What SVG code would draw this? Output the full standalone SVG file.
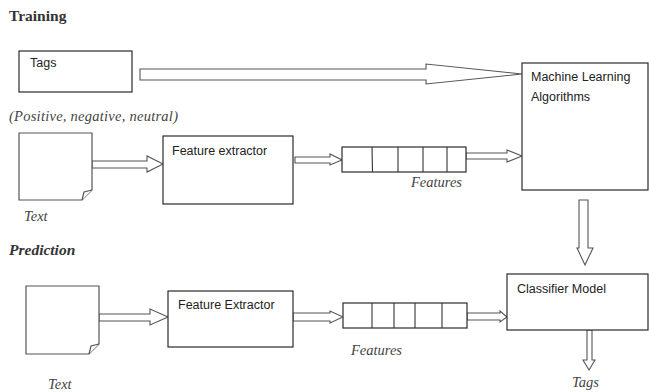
<svg xmlns="http://www.w3.org/2000/svg" width="649" height="392" viewBox="0 0 649 392">
  <defs>
    <style>
      .box { fill: #fff; stroke: #2b2b2b; stroke-width: 1.2; }
      .doc { fill: #fff; stroke: #555; stroke-width: 1.2; }
      .arrow { fill: #fff; stroke: #555; stroke-width: 1.1; stroke-linejoin: miter; }
      .cell { stroke: #333; stroke-width: 1.1; fill: none; }
      .lbl { font-family: "Liberation Sans", Arial, sans-serif; font-size: 12.5px; fill: #222; }
      .head { font-family: "Liberation Serif", "Times New Roman", serif; font-size: 15.5px; font-weight: bold; fill: #333; }
      .cap { font-family: "Liberation Serif", "Times New Roman", serif; font-size: 14.5px; font-style: italic; fill: #444; }
    </style>
  </defs>
  <rect width="649" height="392" fill="#fff"/>

  <!-- section titles -->
  <text class="head" x="9" y="21">Training</text>
  <text class="head" x="9" y="255" font-style="italic">Prediction</text>
  <text class="cap" x="9" y="121" textLength="169" lengthAdjust="spacing" font-size="15.5px">(Positive, negative, neutral)</text>

  <!-- connectors: block arrows -->
  <g id="connectors">
    <polygon class="arrow" points="140,69 426,69 426,64 522,74 426,84 426,80 140,80"/>
    <polygon class="arrow" points="92,161 147,161 147,156 163,164 147,172 147,168 92,168"/>
    <polygon class="arrow" points="295,157 330,157 330,154 342,160 330,165 330,163 295,163"/>
    <polygon class="arrow" points="466,153 507,153 507,150 522,156 507,162 507,159 466,159"/>
    <polygon class="arrow" points="579,200 588,200 588,248 593,248 585,265 577,248 579,248"/>
    <polygon class="arrow" points="99,314 150,314 150,309 168,317 150,325 150,321 99,321"/>
    <polygon class="arrow" points="293,313 330,313 330,311 343,317 330,323 330,321 293,321"/>
    <polygon class="arrow" points="467,313 500,313 500,311 507,317 500,322 500,320 467,320"/>
    <polygon class="arrow" points="587,330 592,330 592,360 595,360 589,370 583,360 587,360"/>
  </g>

  <!-- training -->
  <g id="tags-box">
    <rect class="box" x="19" y="51" width="113" height="41"/>
    <text class="lbl" x="30" y="67">Tags</text>
  </g>

  <g id="text-doc-train">
    <path class="doc" d="M19,133 H92 V190 L82,200 H19 Z"/>
    <path class="doc" d="M92,190 L84,192 L82,200"/>
    <text class="cap" x="24" y="221">Text</text>
  </g>

  <g id="feature-extractor-train">
    <rect class="box" x="163" y="136" width="130" height="68"/>
    <text class="lbl" x="172" y="155">Feature extractor</text>
  </g>

  <g id="features-train">
    <rect class="box" x="342" y="147" width="124" height="25"/>
    <line class="cell" x1="372" y1="147" x2="372.5" y2="172"/>
    <line class="cell" x1="398" y1="147" x2="398" y2="172"/>
    <line class="cell" x1="423" y1="147" x2="423" y2="172"/>
    <line class="cell" x1="447" y1="147" x2="447" y2="172"/>
    <text class="cap" x="411" y="187">Features</text>
  </g>

  <g id="ml-algorithms">
    <rect class="box" x="522" y="63" width="126" height="127"/>
    <text class="lbl" x="531" y="81">Machine Learning</text>
    <text class="lbl" x="531" y="101">Algorithms</text>
  </g>

  <!-- prediction -->
  <g id="text-doc-predict">
    <path class="doc" d="M26,286 H99 V344 L89,354 H26 Z"/>
    <path class="doc" d="M99,344 L91,346 L89,354"/>
    <text class="cap" x="48" y="389">Text</text>
  </g>

  <g id="feature-extractor-predict">
    <rect class="box" x="168" y="291" width="125" height="56"/>
    <text class="lbl" x="178" y="309">Feature Extractor</text>
  </g>

  <g id="features-predict">
    <rect class="box" x="343" y="303" width="124" height="25"/>
    <line class="cell" x1="372" y1="303" x2="372" y2="328"/>
    <line class="cell" x1="394" y1="303" x2="394" y2="328"/>
    <line class="cell" x1="415" y1="303" x2="415" y2="328"/>
    <line class="cell" x1="442" y1="303" x2="442" y2="328"/>
    <text class="cap" x="351" y="355">Features</text>
  </g>

  <g id="classifier-model">
    <rect class="box" x="507" y="274" width="141" height="56"/>
    <text class="lbl" x="517" y="293">Classifier Model</text>
  </g>

  <g id="tags-output">
    <text class="cap" x="572" y="387">Tags</text>
  </g>
</svg>
